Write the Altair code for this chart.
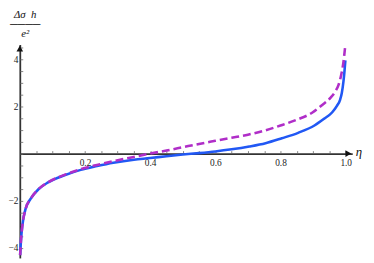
import altair as alt
import pandas as pd

# eta values and curves
blue_x = [0.001, 0.004, 0.008, 0.018, 0.033, 0.058, 0.087, 0.137, 0.187, 0.237, 0.287,
          0.35, 0.40, 0.45, 0.50, 0.55, 0.60, 0.65, 0.704, 0.754, 0.804, 0.854,
          0.904, 0.933, 0.958, 0.973, 0.983, 0.988, 0.993, 0.996, 0.999]
blue_y = [-4.30, -3.60, -3.03, -2.33, -1.92, -1.50, -1.22, -0.92, -0.69, -0.53, -0.39,
          -0.26, -0.19, -0.11, -0.04, 0.02, 0.09, 0.18, 0.30, 0.44, 0.65, 0.88,
          1.19, 1.47, 1.74, 2.02, 2.29, 2.57, 3.05, 3.45, 3.95]

dash_x = [0.001, 0.004, 0.008, 0.018, 0.033, 0.058, 0.087, 0.137, 0.187, 0.237, 0.287,
          0.35, 0.40, 0.45, 0.50, 0.55, 0.60, 0.65, 0.70, 0.75, 0.80, 0.849, 0.898,
          0.928, 0.953, 0.968, 0.978, 0.988, 0.993, 0.998]
dash_y = [-4.30, -3.60, -3.03, -2.33, -1.92, -1.50, -1.21, -0.90, -0.66, -0.48, -0.32,
          -0.14, 0.00, 0.13, 0.27, 0.41, 0.54, 0.67, 0.80, 0.97, 1.19, 1.43, 1.74,
          2.06, 2.36, 2.63, 2.91, 3.46, 3.87, 4.49]

x_labels = [0.2, 0.4, 0.6, 0.8, 1.0]
y_labels = [-4, -2, 2, 4]
x_minor = [round(0.05 * i, 2) for i in range(1, 21)]
y_minor = [round(-4.0 + 0.5 * i, 1) for i in range(0, 18)]

x_dom = [0.0, 1.02]
y_dom = [-4.42, 4.62]

arrow_x = [1.008, 0.0]
arrow_y = [0.0, 4.45]
arrow_shape = ["triangle-right", "triangle-up"]

W, H = 338, 217
zero_off = H * (0 - y_dom[0]) / (y_dom[1] - y_dom[0])

blue = pd.DataFrame({"x": blue_x, "y": blue_y})
dash = pd.DataFrame({"x": dash_x, "y": dash_y})
arrows = pd.DataFrame({"x": arrow_x, "y": arrow_y, "s": arrow_shape})

xs = alt.Scale(domain=x_dom, nice=False, zero=False)
ys = alt.Scale(domain=y_dom, nice=False, zero=False)

serif = "Liberation Serif"

xaxis_a = alt.Axis(orient="bottom", offset=-zero_off, values=x_labels, format=".1f",
                   tickSize=0, domain=True, domainColor="#333333", domainWidth=1.8,
                   labelFont=serif, labelFontSize=9.5, labelColor="#222222", labelPadding=4,
                   labelFlush=False, grid=False,
                   title="η", titleFont=serif, titleFontStyle="italic", titleFontWeight="normal",
                   titleFontSize=13, titleColor="#111111", titleAngle=0, titleAlign="left",
                   titleBaseline="middle", titleX=W + 3, titleY=-2)
yaxis_a = alt.Axis(orient="left", values=y_labels, tickSize=0, domain=True,
                   domainColor="#333333", domainWidth=1.8,
                   labelFont=serif, labelFontSize=9.5, labelColor="#222222", labelPadding=2,
                   labelFlush=False, grid=False,
                   title=["Δσ\u2002h", "────", "e²"], titleFont=serif, titleFontStyle="italic",
                   titleFontWeight="normal", titleFontSize=11, titleLineHeight=9.5,
                   titleColor="#111111", titleAngle=0, titleAlign="center",
                   titleBaseline="alphabetic", titleX=5, titleY=-27)
xaxis_b = alt.Axis(orient="top", offset=-(H - zero_off), values=x_minor, tickSize=3,
                   tickColor="#666666", tickWidth=0.8, labels=False, domain=False,
                   grid=False, title="")
yaxis_b = alt.Axis(orient="right", offset=-W, values=y_minor, tickSize=3,
                   tickColor="#666666", tickWidth=0.8, labels=False, domain=False,
                   grid=False, title="")

blue_line = alt.Chart(blue).mark_line(color="#2158f4", strokeWidth=2.6,
                                      interpolate="monotone").encode(
    x=alt.X("x:Q", scale=xs, axis=xaxis_a),
    y=alt.Y("y:Q", scale=ys, axis=yaxis_a),
)
dash_line = alt.Chart(dash).mark_line(color="#b02ec8", strokeWidth=2.6, strokeDash=[8, 4],
                                      interpolate="monotone").encode(
    x=alt.X("x:Q", scale=xs, axis=xaxis_b),
    y=alt.Y("y:Q", scale=ys, axis=yaxis_b),
)
arrow_pts = alt.Chart(arrows).mark_point(filled=True, color="#111111", size=45,
                                         opacity=1).encode(
    x=alt.X("x:Q", scale=xs, axis=None),
    y=alt.Y("y:Q", scale=ys, axis=None),
    shape=alt.Shape("s:N", scale=None, legend=None),
)

chart = alt.layer(blue_line, dash_line, arrow_pts).resolve_axis(
    x="independent", y="independent"
).properties(
    width=W, height=H,
    autosize=alt.AutoSizeParams(type="none"),
    padding={"left": 12, "top": 35, "right": 14, "bottom": 3},
).configure_view(stroke=None)

chart.save("out.html", embed_options={"renderer": "svg", "actions": False})
